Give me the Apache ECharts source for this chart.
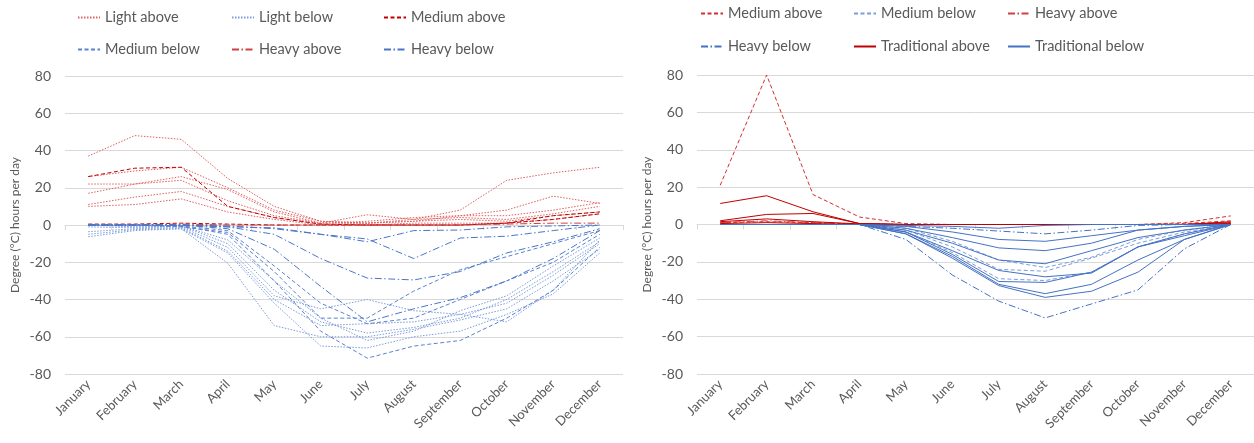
<!DOCTYPE html>
<html>
<head>
<meta charset="utf-8">
<script src="https://cdn.jsdelivr.net/npm/echarts@6/dist/echarts.min.js"></script>
<style>
html,body{margin:0;padding:0;background:#fff;}
#chart{width:1254px;height:443px;}
</style>
</head>
<body>
<div id="chart"></div>
<script>
const months = ['January','February','March','April','May','June','July','August','September','October','November','December'];
const yAxisName = 'Degree (°C) hours per day';

// ---- Left chart ----
const leftLightAbove = [
  [37, 48, 46, 25, 10, 2, 1, 3, 8, 24, 28, 31],
  [26, 29, 31, 20, 8, 2, 1, 2, 5, 8, 15.5, 11.6],
  [22, 22, 26, 19, 7, 1, 5.5, 3, 4, 3, 6, 10],
  [17, 22, 24, 13, 5, 1, 2, 4, 5, 5, 8, 12],
  [11, 15, 18, 10, 4, 0.5, 1, 2, 3, 2, 5, 7],
  [10, 11, 14, 7, 3, 0, 0, 1, 1, 1, 3, 6]
];
const leftLightBelow = [
  [-6.3, -3, -2, -20.5, -54, -60, -60, -56, -51, -45, -30, -13],
  [-5, -2.5, -2, -15, -42, -65, -66, -60, -57, -48, -37, -15],
  [-3.6, -2, -1.5, -14, -40, -54, -53, -52, -48, -42, -27, -10],
  [-1, -1.5, -1, -12, -38, -45, -40, -46, -48, -52, -35, -8],
  [0, -1, -0.5, -10, -35, -52, -58, -55, -50, -40, -25, -9],
  [0, -0.5, -0.5, -8, -30, -50, -62, -57, -46, -38, -22, -7]
];
const leftMediumAbove = [
  [26, 30.5, 31, 10, 4, 0.5, 0, 0, 0, 1, 5, 7],
  [0.5, 0.5, 1, 0.5, 0, 0, 0, 0, 0, 1, 3, 6]
];
const leftMediumBelow = [
  [0, 0, -0.5, -5, -30, -57, -71.5, -65, -62, -50, -35, -12],
  [0, 0, -1, -4, -25, -50, -50, -35.5, -24, -17, -10, -3],
  [0, 0, -0.5, -3, -22, -42, -53, -50, -40, -30, -20, -5]
];
const leftHeavyAbove = [
  [0, 0, 0.5, 0, 0, 0, 0, 0, 0, 0.5, 1, 1]
];
const leftHeavyBelow = [
  [0, 0, 0, -1, -1.5, -5, -9, -3, -2.7, -1, -0.5, 0],
  [0, 0, 0, -0.5, -2, -5, -7.5, -18, -7, -6, -3, 0],
  [0, 0, 0, -1, -5, -18, -28.5, -29.5, -25, -15, -9, -2],
  [0, 0, 0, -2, -13, -33, -52, -45, -39, -30, -18, -3]
];

// ---- Right chart ----
const rightMediumAbove = [
  [21, 80, 16, 4, 0.5, 0, 0, 0, 0, 0, 1, 4.6],
  [1, 1.5, 1, 0.3, 0, 0, 0, 0, 0, 0, 0.5, 2]
];
const rightMediumBelow = [
  [0, 0, 0, 0, -2, -9, -19, -23, -17.5, -8, -3, 0],
  [0, 0, 0, 0, -3, -12, -24, -25, -18, -10, -4, 0],
  [0, 0, 0, 0, -4, -15, -29, -30, -25.5, -12, -5, 0]
];
const rightHeavyAbove = [
  [1, 2, 1, 0.2, 0, 0, 0, 0, 0, 0, 0, 0.5]
];
const rightHeavyBelow = [
  [0, 0, 0, 0, -1, -2, -3.5, -5, -3, -0.5, 0, 0],
  [0, 0, 0, 0, -8, -27, -41, -50, -42.5, -35, -13, 0]
];
const rightTraditionalAbove = [
  [11.25, 15.4, 6.8, 0.5, 0, 0, 0, 0, 0, 0, 0, 1.5],
  [2, 5.4, 5.9, 0.5, 0, 0, 0, 0, 0, 0, 0, 1],
  [1.5, 3, 1.5, 0.3, 0, 0, 0, 0, 0, 0, 0, 0.5],
  [0.5, 1, 0.5, 0, 0, 0, 0, 0, 0, 0, 0, 0]
];
const rightTraditionalBelow = [
  [0, 0, 0, 0, -0.5, -1, -2, -0.5, 0, 0, 0, 0],
  [0, 0, 0, 0, -1, -4, -8, -9, -6, -3, -1, 0],
  [0, 0, 0, 0, -2, -7, -12.5, -14, -10, -3, -1, 0],
  [0, 0, 0, 0, -3, -10, -19, -21, -14, -7, -3, 0],
  [0, 0, 0, 0, -4, -14, -24.6, -28, -26, -12, -5, 0],
  [0, 0, 0, 0, -4, -16, -30.5, -31, -25.5, -12, -6, 0],
  [0, 0, 0, 0, -5, -17, -32, -37, -32, -19, -8, 0],
  [0, 0, 0, 0, -5, -18, -32.7, -39, -35.7, -25.5, -8, 0]
];

const DOT = [1.5, 1.5], DASH = [4, 2.5], DASHDOT = [7, 2.5, 1.5, 2.5], SOLID = 'solid';
const FONT = 'Lato, sans-serif';
const GRAY = '#595959';

const leftGroups = [
  {name: 'Light above', lines: leftLightAbove, color: '#e06060', type: DOT},
  {name: 'Light below', lines: leftLightBelow, color: '#7c9cdc', type: DOT},
  {name: 'Medium above', lines: leftMediumAbove, color: '#c00000', type: DASH},
  {name: 'Medium below', lines: leftMediumBelow, color: '#5a82d0', type: DASH},
  {name: 'Heavy above', lines: leftHeavyAbove, color: '#d04040', type: DASHDOT},
  {name: 'Heavy below', lines: leftHeavyBelow, color: '#4a76c8', type: DASHDOT}
];
const rightGroups = [
  {name: 'Medium above', lines: rightMediumAbove, color: '#d03030', type: DASH},
  {name: 'Medium below', lines: rightMediumBelow, color: '#7c9cdc', type: DASH},
  {name: 'Heavy above', lines: rightHeavyAbove, color: '#d04040', type: DASHDOT},
  {name: 'Heavy below', lines: rightHeavyBelow, color: '#4472c4', type: DASHDOT},
  {name: 'Traditional above', lines: rightTraditionalAbove, color: '#c00000', type: SOLID},
  {name: 'Traditional below', lines: rightTraditionalBelow, color: '#4472c4', type: SOLID}
];

function buildSeries(groups, idx, suffix) {
  const out = [];
  groups.forEach(function (g) {
    g.lines.forEach(function (line) {
      out.push({
        type: 'line',
        name: g.name + suffix,
        xAxisIndex: idx, yAxisIndex: idx,
        data: line,
        symbol: 'none',
        silent: true,
        lineStyle: {color: g.color, width: 1, type: g.type},
        itemStyle: {color: g.color}
      });
    });
  });
  return out;
}

const leftLegendPos = [[77, 10], [231, 10], [383, 10], [77, 42], [231, 42], [383, 42]];
const rightLegendPos = [[700, 6], [853, 6], [1007, 6], [700, 39], [853, 39], [1007, 39]];
function buildLegends(groups, pos, suffix) {
  return groups.map(function (g, i) {
    return {
      data: [{name: g.name + suffix, itemStyle: {opacity: 0}}],
      left: pos[i][0], top: pos[i][1],
      padding: 0,
      itemWidth: 22, itemHeight: 14, itemGap: 4,
      selectedMode: false,
      itemStyle: {opacity: 0},
      formatter: function (n) { return n.replace(/\u200b/g, ''); },
      textStyle: {color: GRAY, fontSize: 14.5, fontFamily: FONT}
    };
  });
}

function xAxisCfg(idx) {
  return {
    type: 'category', gridIndex: idx, data: months, boundaryGap: true,
    axisLine: {lineStyle: {color: '#d9d9d9'}},
    axisTick: {show: true, length: 5, lineStyle: {color: '#d9d9d9'}},
    axisLabel: {rotate: 45, color: GRAY, fontSize: 13, fontFamily: FONT, interval: 0, margin: 8},
    splitLine: {show: false}
  };
}
function yAxisCfg(idx) {
  return {
    type: 'value', gridIndex: idx, min: -80, max: 80, interval: 20,
    name: yAxisName, nameLocation: 'middle', nameGap: 44, nameRotate: 90,
    nameTextStyle: {color: GRAY, fontSize: 12, fontFamily: FONT},
    axisLine: {show: false}, axisTick: {show: false},
    axisLabel: {color: GRAY, fontSize: 14, fontFamily: FONT, margin: 14},
    splitLine: {lineStyle: {color: '#d9d9d9', width: 1}}
  };
}

const chart = echarts.init(document.getElementById('chart'), null, {renderer: 'canvas'});
chart.setOption({
  animation: false,
  backgroundColor: '#fff',
  grid: [
    {left: 65, right: 631, top: 76, bottom: 69},
    {left: 697, right: 0, top: 75, bottom: 69}
  ],
  legend: buildLegends(leftGroups, leftLegendPos, '').concat(buildLegends(rightGroups, rightLegendPos, '\u200b')),
  xAxis: [xAxisCfg(0), xAxisCfg(1)],
  yAxis: [yAxisCfg(0), yAxisCfg(1)],
  series: buildSeries(leftGroups, 0, '').concat(buildSeries(rightGroups, 1, '\u200b'))
});
</script>
</body>
</html>
